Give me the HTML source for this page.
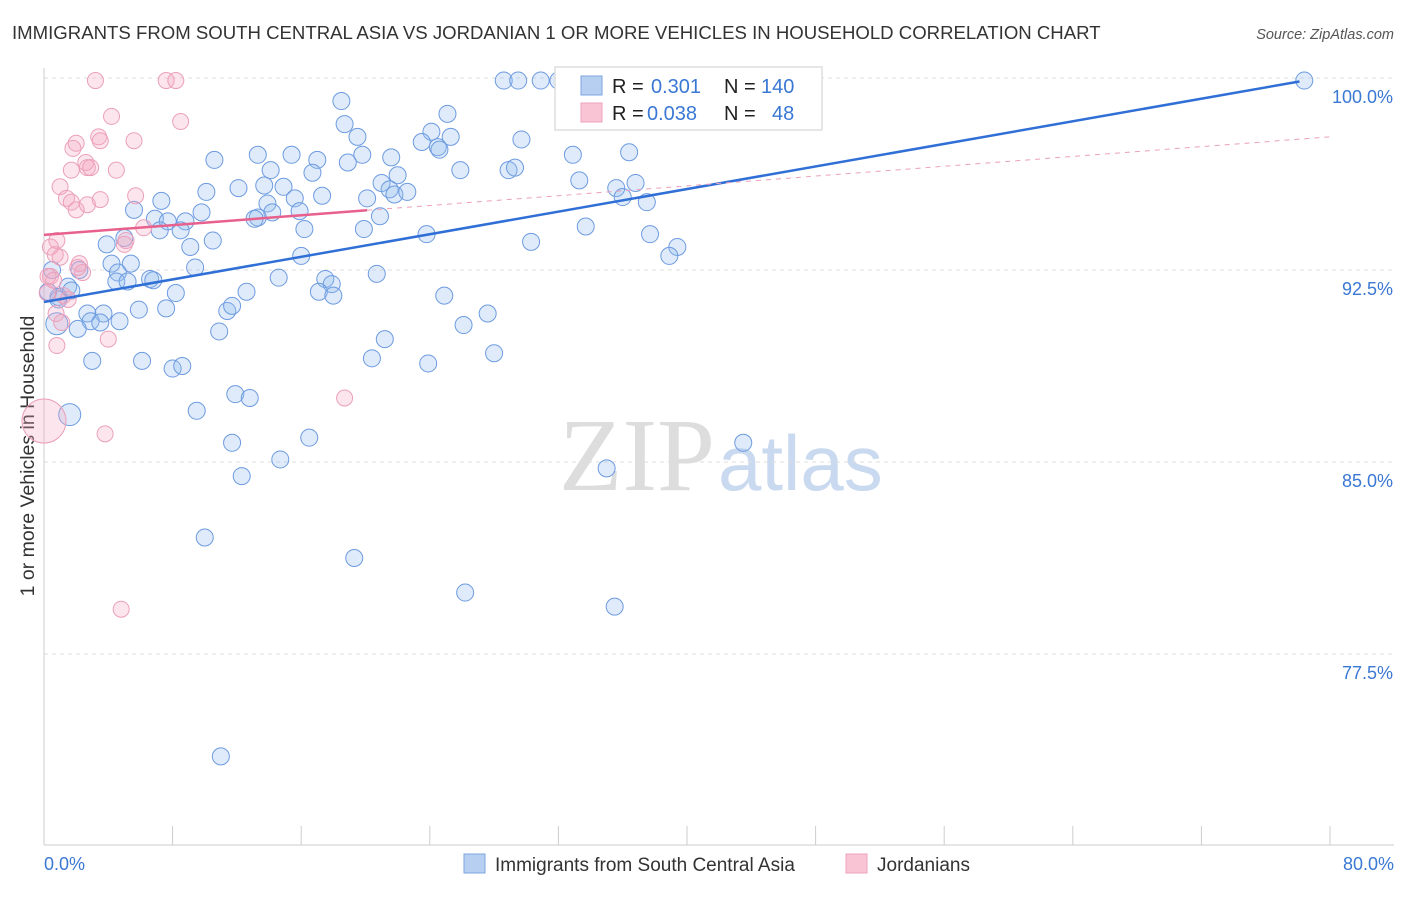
<!DOCTYPE html>
<html><head><meta charset="utf-8"><style>
body{margin:0;background:#fff;font-family:"Liberation Sans",sans-serif;}
svg text{font-family:"Liberation Sans",sans-serif;}
</style></head><body>
<svg id="chart" width="1406" height="892">
<text x="12" y="39" font-size="18.6" fill="#333">IMMIGRANTS FROM SOUTH CENTRAL ASIA VS JORDANIAN 1 OR MORE VEHICLES IN HOUSEHOLD CORRELATION CHART</text>
<text x="1394" y="39" font-size="14.5" fill="#555" font-style="italic" text-anchor="end">Source: ZipAtlas.com</text>
<text transform="translate(34,456) rotate(-90)" font-size="19.5" fill="#333" text-anchor="middle">1 or more Vehicles in Household</text>
<text x="715" y="490" font-size="104" fill="#ddd" text-anchor="end" style="font-family:'Liberation Serif',serif">ZIP</text>
<text x="718" y="490" font-size="78" fill="#c9d9ef">atlas</text>
<g id="grid"></g><g id="axes"></g><g id="blue"></g><g id="pink"></g><g id="trends"></g>
<g>
<rect x="555" y="67" width="267" height="63" fill="#fff" stroke="#ddd" stroke-width="1.5"/>
<rect x="581" y="76" width="21" height="19" fill="#b7d0f2" stroke="#7ea6e0"/>
<rect x="581" y="103" width="21" height="19" fill="#f9c5d5" stroke="#eca2bb"/>
<text x="612" y="93" font-size="20" fill="#222">R = <tspan fill="#3a78d4" x="651">0.301</tspan></text>
<text x="724" y="93" font-size="20" fill="#222">N = <tspan fill="#3a78d4" x="761">140</tspan></text>
<text x="612" y="120" font-size="20" fill="#222">R = <tspan fill="#3a78d4" x="647">0.038</tspan></text>
<text x="724" y="120" font-size="20" fill="#222">N = <tspan fill="#3a78d4" x="772">48</tspan></text>
</g>
<g>
<rect x="464" y="854" width="21" height="19" fill="#b7d0f2" stroke="#7ea6e0"/>
<text x="495" y="871" font-size="19" fill="#333">Immigrants from South Central Asia</text>
<rect x="846" y="854" width="21" height="19" fill="#f9c5d5" stroke="#eca2bb"/>
<text x="877" y="871" font-size="19" fill="#333">Jordanians</text>
</g>
<text x="44" y="870" font-size="18" fill="#3a78d4">0.0%</text>
<text x="1394" y="870" font-size="18" fill="#3a78d4" text-anchor="end">80.0%</text>
</svg>
<script>
const yTicks=[100,92.5,85,77.5];
const yTickLabels=["100.0%","92.5%","85.0%","77.5%"];
const xTicks=[0,8,16,24,32,40,48,56,64,72,80];
const blueX=[28.6,29.5,30.9,32.0,36.6,37.5,41.6,78.4,18.5,25.1,18.7,24.1,19.5,23.5,25.3,24.5,24.6,29.7,36.4,32.9,19.8,21.6,10.6,13.3,15.4,17.0,18.9,25.9,28.9,29.3,14.1,16.7,22.0,33.3,21.0,13.7,12.1,14.9,21.5,21.8,22.6,36.8,35.6,36.0,10.1,17.3,7.3,13.9,15.6,20.1,37.5,5.6,15.9,14.2,9.8,13.3,13.1,6.9,8.8,7.7,20.9,16.2,19.9,7.2,8.5,23.8,33.7,37.7,30.3,3.9,9.1,10.5,5.0,39.4,38.9,16.0,4.2,5.4,9.4,2.2,4.6,20.7,14.6,17.5,6.6,6.8,4.5,5.2,17.9,1.5,1.7,0.9,12.6,8.2,17.1,18.0,24.9,7.6,5.9,11.4,11.7,27.6,2.7,3.7,2.9,3.5,4.7,0.8,2.1,10.9,26.1,21.2,20.4,28.0,23.9,3.0,6.1,8.0,8.6,11.9,12.8,9.5,1.6,16.5,11.7,14.7,12.3,43.5,35.0,10.0,19.3,26.2,35.5,11.0,0.9,0.5,0.25];
const blueY=[99.9,99.9,99.9,99.9,99.9,99.9,99.9,99.9,99.1,98.6,98.2,97.9,97.7,97.5,97.7,97.3,97.2,97.6,97.1,97.0,97.0,96.9,96.8,97.0,97.0,96.8,96.7,96.4,96.4,96.5,96.4,96.3,96.2,96.0,95.9,95.8,95.7,95.75,95.65,95.45,95.55,95.9,95.7,95.35,95.55,95.4,95.2,95.1,95.3,95.3,95.15,94.85,94.8,94.75,94.75,94.55,94.5,94.5,94.4,94.4,94.6,94.1,94.1,94.05,94.05,93.9,94.2,93.9,93.6,93.5,93.4,93.65,93.75,93.4,93.05,93.05,92.75,92.75,92.6,92.5,92.4,92.35,92.2,92.15,92.15,92.1,92.05,92.05,91.95,91.85,91.7,91.45,91.65,91.6,91.65,91.5,91.5,91.0,90.95,90.9,91.1,90.8,90.8,90.8,90.5,90.45,90.5,90.4,90.2,90.1,90.35,89.8,89.05,89.25,88.85,88.95,88.95,88.65,88.75,87.65,87.5,87.0,86.85,85.95,85.75,85.1,84.45,85.75,84.75,82.05,81.25,79.9,79.35,73.5,91.35,92.5,91.65];
const pinkX=[3.2,7.6,8.2,4.2,8.5,3.4,5.6,2.0,3.5,1.8,2.6,2.7,1.7,4.5,2.9,1.0,5.7,1.4,1.7,3.5,2.7,2.0,6.2,0.8,5.1,5.0,0.4,0.7,2.2,1.0,2.4,0.4,0.2,1.2,0.75,1.1,0.8,4.0,18.7,3.8,4.8,0,0.25,0.6,2.1,1.5];
const pinkY=[99.9,99.9,99.9,98.5,98.3,97.7,97.55,97.45,97.55,97.25,96.7,96.5,96.4,96.4,96.5,95.75,95.4,95.3,95.15,95.25,95.05,94.85,94.15,93.65,93.65,93.5,93.4,93.1,92.75,93.0,92.4,92.25,91.6,91.5,90.8,90.45,89.55,89.8,87.5,86.1,79.25,86.6,92.25,92.1,92.6,91.35];
const blueTrend=[91.25,0.1103];
const pinkTrend=[93.87,0.0479];
const X0=44,X1=1330,Y0=78;
function sx(v){return X0+(v/80)*(X1-X0);}
function sy(v){return Y0+(100-v)*25.6;}
const NS="http://www.w3.org/2000/svg";
function mk(tag,parent,attrs){const e=document.createElementNS(NS,tag);for(const k in attrs)e.setAttribute(k,attrs[k]);document.getElementById(parent).appendChild(e);return e;}
yTicks.forEach((t,i)=>{
 const l=mk('line','grid',{x1:44,x2:1394,y1:sy(t),y2:sy(t),stroke:'#ddd','stroke-dasharray':'4,4'});
 
 
 const tx=mk('text','grid',{x:1393,y:sy(t)+25,'font-size':18,fill:'#3a78d4','text-anchor':'end'});
 tx.textContent=yTickLabels[i];
 
 
});
const ya=mk('line','axes',{x1:44,x2:44,y1:68,y2:845,stroke:'#ccc'});


const xa=mk('line','axes',{x1:44,x2:1394,y1:845,y2:845,stroke:'#ccc'});


xTicks.forEach(t=>{const l=mk('line','axes',{x1:sx(t),x2:sx(t),y1:826,y2:845,stroke:'#ccc'});
 
 });
blueX.forEach((x,i)=>{const big=(x<1.7&&(blueY[i]>90.3&&blueY[i]<90.5||blueY[i]<87&&blueY[i]>86.8));
 const c=mk('circle','blue',{cx:sx(x),cy:sy(blueY[i]),r:big?11:8.5,fill:'rgba(150,188,238,0.3)',stroke:'#6d9be0','stroke-width':1});
 
 });
pinkX.forEach((x,i)=>{const big=x===0;
 const c=mk('circle','pink',{cx:sx(x),cy:sy(pinkY[i]),r:big?22:8,fill:'rgba(246,170,196,0.3)',stroke:'#eba0ba','stroke-width':1});
 
 });
const bt=mk('line','trends',{x1:sx(0),y1:sy(blueTrend[0]),x2:sx(78.1),y2:sy(blueTrend[0]+blueTrend[1]*78.1),stroke:'#2f6fd6','stroke-width':2.5});


const pt=mk('line','trends',{x1:sx(0),y1:sy(pinkTrend[0]),x2:sx(20.1),y2:sy(pinkTrend[0]+pinkTrend[1]*20.1),stroke:'#e8608c','stroke-width':2.5});


const pd=mk('line','trends',{x1:sx(20.1),y1:sy(pinkTrend[0]+pinkTrend[1]*20.1),x2:sx(80),y2:sy(pinkTrend[0]+pinkTrend[1]*80),stroke:'#eba0ba','stroke-width':1,'stroke-dasharray':'5,5'});


</script>
</body></html>
